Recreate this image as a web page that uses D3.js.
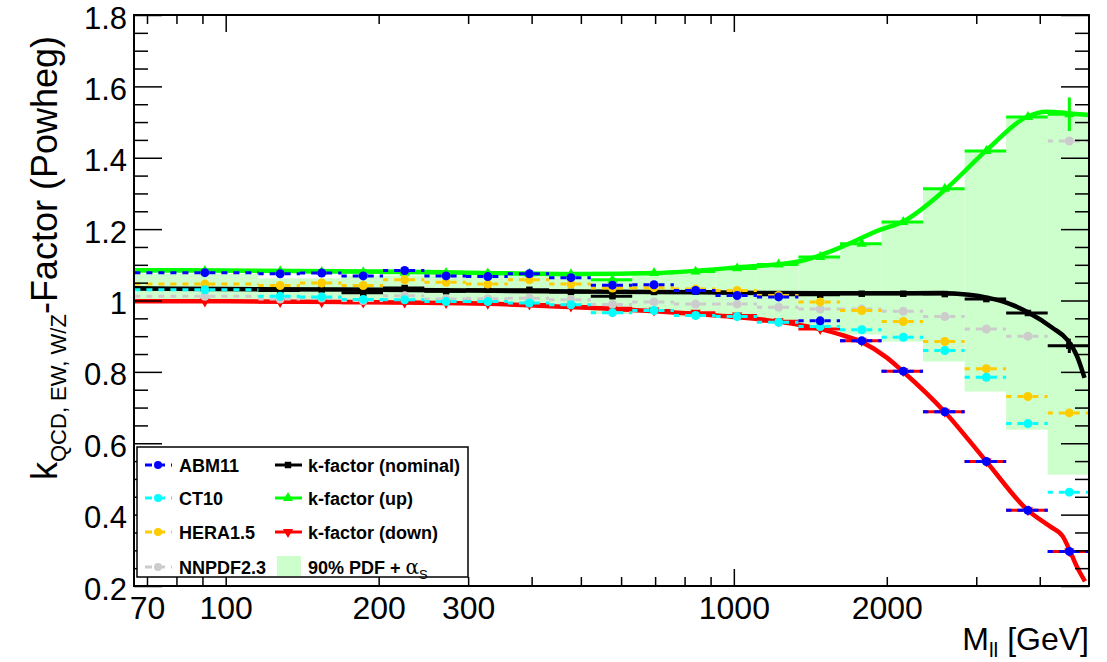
<!DOCTYPE html>
<html>
<head>
<meta charset="utf-8">
<script src="https://cdn.jsdelivr.net/npm/d3@7"></script>
<style>
body { margin: 0; background: #fff; }
text { font-family: "Liberation Sans", Arial, Helvetica, sans-serif; }
</style>
</head>
<body>
<div id="chart"></div>
<script>
// bins in M_ll [GeV]
var binEdges = [66, 116, 140, 169, 204, 246, 297, 359, 433, 523, 631, 762, 920, 1110, 1340, 1618, 1953, 2357, 2846, 3435, 4147, 5000];

// PDF sets
var pdfNames = ["ABM11", "CT10", "HERA1.5", "NNPDF2.3"];
var abm11   = [1.078, 1.075, 1.077, 1.069, 1.084, 1.069, 1.067, 1.075, 1.064, 1.043, 1.044, 1.028, 1.014, 1.010, 0.943, 0.887, 0.802, 0.688, 0.549, 0.412, 0.297];
var ct10    = [1.030, 1.012, 1.010, 1.003, 1.002, 0.997, 0.997, 0.993, 0.988, 0.966, 0.972, 0.958, 0.955, 0.939, 0.927, 0.918, 0.897, 0.860, 0.785, 0.655, 0.463];
var hera15  = [1.046, 1.042, 1.049, 1.042, 1.058, 1.051, 1.046, 1.058, 1.046, 1.035, 1.036, 1.032, 1.028, 1.014, 0.996, 0.972, 0.941, 0.885, 0.809, 0.731, 0.685];
var nnpdf23 = [1.012, 1.004, 1.007, 1.000, 1.013, 1.004, 1.005, 1.006, 1.002, 0.989, 0.996, 0.990, 0.990, 0.981, 0.976, 0.976, 0.970, 0.955, 0.920, 0.900, 1.447];

// k-factors
var kNominal = [1.032, 1.028, 1.031, 1.022, 1.035, 1.026, 1.030, 1.030, 1.024, 1.012, 1.024, 1.025, 1.022, 1.016, 1.016, 1.019, 1.019, 1.018, 1.004, 0.965, 0.873];
var kNominalErr = [0.002, 0.002, 0.002, 0.002, 0.002, 0.002, 0.002, 0.002, 0.002, 0.002, 0.002, 0.002, 0.002, 0.002, 0.002, 0.003, 0.003, 0.004, 0.005, 0.008, 0.020];
var kUp = [1.083, 1.082, 1.080, 1.079, 1.078, 1.077, 1.076, 1.075, 1.074, 1.058, 1.077, 1.081, 1.090, 1.101, 1.122, 1.159, 1.220, 1.313, 1.419, 1.514, 1.522];
var kUpErr = [0.002, 0.002, 0.002, 0.002, 0.002, 0.002, 0.002, 0.002, 0.002, 0.002, 0.002, 0.002, 0.002, 0.002, 0.002, 0.003, 0.003, 0.004, 0.005, 0.008, 0.047];
var kDown = [0.997, 0.996, 0.995, 0.994, 0.994, 0.993, 0.991, 0.989, 0.983, 0.978, 0.972, 0.966, 0.958, 0.942, 0.920, 0.887, 0.802, 0.688, 0.549, 0.412, 0.297];

// 90% PDF + alpha_s band
var bandLow  = [0.995, 0.994, 0.994, 0.993, 0.993, 0.992, 0.991, 0.990, 0.985, 0.962, 0.965, 0.955, 0.953, 0.945, 0.920, 0.905, 0.885, 0.829, 0.745, 0.638, 0.512];
var bandHigh = [1.075, 1.062, 1.062, 1.070, 1.070, 1.070, 1.070, 1.070, 1.070, 1.058, 1.077, 1.081, 1.090, 1.101, 1.122, 1.159, 1.220, 1.313, 1.419, 1.514, 1.522];

// smooth fits
var nomFitMass = [66, 100, 200, 300, 500, 700, 1000, 1500, 2000, 2540, 2900, 3150, 3500, 3790, 4240, 4530, 4740, 4900];
var nomFitVal  = [1.034, 1.032, 1.030, 1.028, 1.025, 1.024, 1.022, 1.020, 1.020, 1.021, 1.016, 1.008, 0.990, 0.967, 0.923, 0.890, 0.843, 0.783];
var upFitMass = [66, 100, 200, 300, 500, 700, 1000, 1349, 1617, 1938, 2151, 2579, 3148, 3776, 4132, 4528, 5000];
var upFitVal  = [1.085, 1.084, 1.081, 1.078, 1.074, 1.077, 1.092, 1.110, 1.148, 1.198, 1.221, 1.305, 1.422, 1.515, 1.529, 1.525, 1.520];
var downFitMass = [66, 100, 200, 300, 545, 700, 938, 1161, 1457, 1617, 1795, 2000, 2152, 2604, 3140, 3790, 4190, 4440, 4574, 4730, 4910];
var downFitVal  = [0.998, 0.998, 0.995, 0.992, 0.978, 0.970, 0.957, 0.945, 0.922, 0.905, 0.882, 0.840, 0.801, 0.687, 0.549, 0.412, 0.367, 0.339, 0.302, 0.255, 0.213];

// axes
var xTickLabels = [70, 100, 200, 300, 1000, 2000];
var xMajorTicks = [100, 1000];
var xMinorTicks = [70, 80, 90, 200, 300, 400, 500, 600, 700, 800, 900, 2000, 3000, 4000];
var yTickLabels = [0.2, 0.4, 0.6, 0.8, 1, 1.2, 1.4, 1.6, 1.8];
var yMinorTicks = d3.range(0.25, 1.8, 0.05).filter(function(v) { return Math.abs(v * 5 - Math.round(v * 5)) > 1e-6; });

var svgWidth = 1107, svgHeight = 662;
var margin = {top: 15, right: 18, bottom: 76, left: 134};
var width = svgWidth - margin.left - margin.right,
    height = svgHeight - margin.top - margin.bottom;

var svg = d3.select("#chart").append("svg")
    .attr("width", svgWidth).attr("height", svgHeight);

svg.append("defs").append("clipPath").attr("id", "plotclip")
  .append("rect").attr("width", width).attr("height", height);

var g = svg.append("g")
    .attr("transform", "translate(" + margin.left + "," + margin.top + ")");

var x = d3.scaleLog().domain([66, 5000]).range([0, width]);
var y = d3.scaleLinear().domain([0.2, 1.8]).range([height, 0]);

var bins = binEdges.slice(0, -1).map(function(lo, i) {
  return {lo: lo, hi: binEdges[i + 1], c: (lo + binEdges[i + 1]) / 2, i: i};
});

var plot = g.append("g").attr("clip-path", "url(#plotclip)");

// band
plot.selectAll(".band").data(bins).enter().append("rect")
    .attr("x", function(d) { return x(d.lo); })
    .attr("width", function(d) { return x(d.hi) - x(d.lo); })
    .attr("y", function(d) { return y(bandHigh[d.i]); })
    .attr("height", function(d) { return y(bandLow[d.i]) - y(bandHigh[d.i]); })
    .attr("fill", "#ccffcc");

// k-factor histograms and fits
var kSets = [
  {vals: kDown, err: null, color: "#ff0000", fitM: downFitMass, fitV: downFitVal, sym: "down"},
  {vals: kUp, err: kUpErr, color: "#00ff00", fitM: upFitMass, fitV: upFitVal, sym: "up"},
  {vals: kNominal, err: kNominalErr, color: "#000000", fitM: nomFitMass, fitV: nomFitVal, sym: "square"}
];

var fitLine = d3.line()
    .x(function(d) { return x(d[0]); })
    .y(function(d) { return y(d[1]); })
    .curve(d3.curveMonotoneX);

function markerPath(sym) {
  if (sym == "square") return d3.symbol(d3.symbolSquare).size(42)();
  return d3.symbol(d3.symbolTriangle).size(46)();
}

kSets.forEach(function(s) {
  var kg = plot.append("g");
  kg.selectAll("line.h").data(bins).enter().append("line")
      .attr("x1", function(d) { return x(d.lo); })
      .attr("x2", function(d) { return x(d.hi); })
      .attr("y1", function(d) { return y(s.vals[d.i]); })
      .attr("y2", function(d) { return y(s.vals[d.i]); })
      .attr("stroke", s.color).attr("stroke-width", 3);
  if (s.err) {
    kg.selectAll("line.v").data(bins).enter().append("line")
        .attr("x1", function(d) { return x(d.c); })
        .attr("x2", function(d) { return x(d.c); })
        .attr("y1", function(d) { return y(s.vals[d.i] + s.err[d.i]); })
        .attr("y2", function(d) { return y(s.vals[d.i] - s.err[d.i]); })
        .attr("stroke", s.color).attr("stroke-width", 3);
  }
  kg.selectAll("path.m").data(bins).enter().append("path")
      .attr("d", markerPath(s.sym))
      .attr("transform", function(d) {
        return "translate(" + x(d.c) + "," + y(s.vals[d.i]) + ")" + (s.sym == "down" ? "rotate(180)" : "");
      })
      .attr("fill", s.color);
  kg.append("path")
      .datum(d3.zip(s.fitM, s.fitV))
      .attr("d", fitLine)
      .attr("fill", "none")
      .attr("stroke", s.color)
      .attr("stroke-width", 4.5);
});

// PDF sets, dashed horizontal bars with dots
var pdfSets = [
  {vals: nnpdf23, color: "#cccccc"},
  {vals: hera15, color: "#ffcc00"},
  {vals: ct10, color: "#00ffff"},
  {vals: abm11, color: "#0000ff"}
];
var dotR = 4.5;

pdfSets.forEach(function(s) {
  var pg = plot.append("g");
  pg.selectAll("line.l").data(bins).enter().append("line")
      .attr("x1", function(d) { return x(d.c) - dotR; })
      .attr("x2", function(d) { return x(d.lo); })
      .attr("y1", function(d) { return y(s.vals[d.i]); })
      .attr("y2", function(d) { return y(s.vals[d.i]); })
      .attr("stroke", s.color).attr("stroke-width", 3).attr("stroke-dasharray", "6,6");
  pg.selectAll("line.r").data(bins).enter().append("line")
      .attr("x1", function(d) { return x(d.c) + dotR; })
      .attr("x2", function(d) { return x(d.hi); })
      .attr("y1", function(d) { return y(s.vals[d.i]); })
      .attr("y2", function(d) { return y(s.vals[d.i]); })
      .attr("stroke", s.color).attr("stroke-width", 3).attr("stroke-dasharray", "6,6");
  pg.selectAll("circle").data(bins).enter().append("circle")
      .attr("cx", function(d) { return x(d.c); })
      .attr("cy", function(d) { return y(s.vals[d.i]); })
      .attr("r", dotR)
      .attr("fill", s.color);
});

// axes (ROOT style, ticks inside, on all four sides)
function styleAxis(sel) {
  sel.select(".domain").remove();
  sel.selectAll(".tick line").attr("stroke", "#000").attr("stroke-width", 1.5);
  sel.selectAll("text").attr("font-size", 31).attr("fill", "#000")
     .attr("font-family", "'Liberation Sans', Arial, sans-serif");
}

g.append("g").attr("transform", "translate(0," + height + ")")
    .call(d3.axisBottom(x).tickValues(xMajorTicks).tickSize(-17).tickFormat(""))
    .call(styleAxis);
g.append("g").attr("transform", "translate(0," + height + ")")
    .call(d3.axisBottom(x).tickValues(xMinorTicks).tickSize(-9).tickFormat(""))
    .call(styleAxis);
g.append("g").attr("transform", "translate(0," + height + ")")
    .call(d3.axisBottom(x).tickValues(xTickLabels).tickSize(0).tickPadding(10).tickFormat(d3.format("d")))
    .call(styleAxis)
    .selectAll("text").attr("font-size", 32);
g.append("g")
    .call(d3.axisTop(x).tickValues(xMajorTicks).tickSize(-17).tickFormat(""))
    .call(styleAxis);
g.append("g")
    .call(d3.axisTop(x).tickValues(xMinorTicks).tickSize(-9).tickFormat(""))
    .call(styleAxis);

g.append("g")
    .call(d3.axisLeft(y).tickValues(yTickLabels).tickSize(-28).tickPadding(7).tickFormat(d3.format("~g")))
    .call(styleAxis)
    .selectAll("text").attr("dy", "0.42em");
g.append("g")
    .call(d3.axisLeft(y).tickValues(yMinorTicks).tickSize(-14).tickFormat(""))
    .call(styleAxis);
g.append("g").attr("transform", "translate(" + width + ",0)")
    .call(d3.axisRight(y).tickValues(yTickLabels).tickSize(-28).tickFormat(""))
    .call(styleAxis);
g.append("g").attr("transform", "translate(" + width + ",0)")
    .call(d3.axisRight(y).tickValues(yMinorTicks).tickSize(-14).tickFormat(""))
    .call(styleAxis);

// frame
g.append("rect")
    .attr("width", width).attr("height", height)
    .attr("fill", "none").attr("stroke", "#000").attr("stroke-width", 2);

// axis titles (y title starts at the bottom and runs upwards)
var yTitle = svg.append("text")
    .attr("transform", "translate(57,480)rotate(-90)")
    .attr("text-anchor", "start")
    .attr("font-size", 36);
yTitle.append("tspan").text("k");
yTitle.append("tspan").attr("font-size", 22).attr("dy", 9).text("QCD, EW, W/Z");
yTitle.append("tspan").attr("dy", -9).text("-Factor (Powheg)");

var xTitle = svg.append("text")
    .attr("x", margin.left + width)
    .attr("y", 650)
    .attr("text-anchor", "end")
    .attr("font-size", 32);
xTitle.append("tspan").text("M");
xTitle.append("tspan").attr("font-size", 21).attr("dy", 7).text("ll");
xTitle.append("tspan").attr("dy", -7).text(" [GeV]");

// legend
var leg = svg.append("g").attr("transform", "translate(137,447)");
leg.append("rect")
    .attr("width", 331).attr("height", 130)
    .attr("fill", "#fff").attr("stroke", "#000").attr("stroke-width", 1.5);

var rowY = [18, 51, 85, 120];
var pdfColors = ["#0000ff", "#00ffff", "#ffcc00", "#cccccc"];
pdfNames.forEach(function(name, i) {
  var r = leg.append("g").attr("transform", "translate(0," + rowY[i] + ")");
  r.append("line").attr("x1", 8).attr("x2", 35).attr("y1", 0).attr("y2", 0)
      .attr("stroke", pdfColors[i]).attr("stroke-width", 3).attr("stroke-dasharray", "7,6");
  r.append("circle").attr("cx", 21).attr("cy", 0).attr("r", 4).attr("fill", pdfColors[i]);
  r.append("text").attr("x", 42).attr("y", 6.5)
      .attr("font-size", 18).attr("font-weight", "bold").text(name);
});

var kNames = ["k-factor (nominal)", "k-factor (up)", "k-factor (down)"];
var kColors = ["#000000", "#00ff00", "#ff0000"];
var kSyms = ["square", "up", "down"];
kNames.forEach(function(name, i) {
  var r = leg.append("g").attr("transform", "translate(0," + rowY[i] + ")");
  r.append("line").attr("x1", 138).attr("x2", 165).attr("y1", 0).attr("y2", 0)
      .attr("stroke", kColors[i]).attr("stroke-width", 3);
  r.append("path").attr("d", markerPath(kSyms[i]))
      .attr("transform", "translate(151,0)" + (kSyms[i] == "down" ? "rotate(180)" : ""))
      .attr("fill", kColors[i]);
  r.append("text").attr("x", 171).attr("y", 6.5)
      .attr("font-size", 18).attr("font-weight", "bold").text(name);
});

var bandRow = leg.append("g").attr("transform", "translate(0," + rowY[3] + ")");
bandRow.append("rect").attr("x", 140).attr("y", -11).attr("width", 24).attr("height", 20).attr("fill", "#ccffcc");
var bandText = bandRow.append("text").attr("x", 171).attr("y", 6.5)
    .attr("font-size", 18).attr("font-weight", "bold");
bandText.append("tspan").text("90% PDF + ");
bandText.append("tspan").attr("font-weight", "normal").attr("font-family", "'DejaVu Serif', serif")
    .attr("font-size", 20).text("\u03b1");
bandText.append("tspan").attr("font-weight", "normal").attr("font-size", 13).attr("dy", 5).text("S");
</script>
</body>
</html>
